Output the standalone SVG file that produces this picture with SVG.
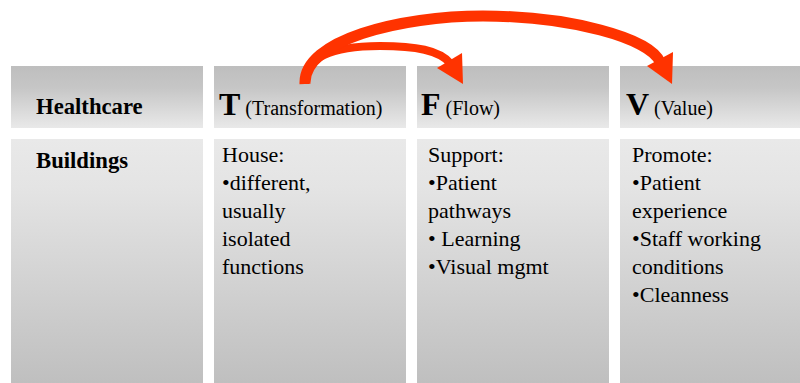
<svg xmlns="http://www.w3.org/2000/svg" width="800" height="383" viewBox="0 0 800 383">
  <defs>
    <linearGradient id="gHead" x1="0" y1="0" x2="0" y2="1">
      <stop offset="0" stop-color="#bebebe"/>
      <stop offset="0.35" stop-color="#c6c6c6"/>
      <stop offset="1" stop-color="#e9e9e9"/>
    </linearGradient>
    <linearGradient id="gBody" x1="0" y1="0" x2="0" y2="1">
      <stop offset="0" stop-color="#e9e9e9"/>
      <stop offset="0.2" stop-color="#e4e4e4"/>
      <stop offset="1" stop-color="#bfbfbf"/>
    </linearGradient>
    <style>
      .hd { fill: url(#gHead); }
      .bd { fill: url(#gBody); }
      text, tspan { font-family: "Times New Roman", "Liberation Serif", Tinos, serif; fill: #000; }
      .lbl { font-size: 22.7px; font-weight: bold; }
      .big { font-size: 32px; font-weight: bold; }
      .sub { font-size: 20px; font-weight: normal; }
      .txt { font-size: 22px; font-weight: normal; }
      .arc { fill: none; stroke: #ff3300; }
      .head { fill: #ff3300; }
    </style>
  </defs>
  <rect width="800" height="383" fill="#ffffff"/>

  <g id="row-label">
    <rect class="hd" x="11" y="66" width="192" height="62"/>
    <text class="lbl" x="36" y="114">Healthcare</text>
    <rect class="bd" x="11" y="139" width="192" height="244"/>
    <text class="lbl" x="36" y="168">Buildings</text>
  </g>

  <g id="col-T">
    <rect class="hd" x="214" y="66" width="192" height="62"/>
    <text x="219" y="115"><tspan class="big">T</tspan><tspan class="sub"> (Transformation)</tspan></text>
    <rect class="bd" x="214" y="139" width="192" height="244"/>
    <text class="txt" x="222" y="162">House:</text>
    <text class="txt" x="222" y="190">•different,</text>
    <text class="txt" x="222" y="218">usually</text>
    <text class="txt" x="222" y="246">isolated</text>
    <text class="txt" x="222" y="274">functions</text>
  </g>

  <g id="col-F">
    <rect class="hd" x="417" y="66" width="192" height="62"/>
    <text x="421" y="115"><tspan class="big">F</tspan><tspan class="sub"> (Flow)</tspan></text>
    <rect class="bd" x="417" y="139" width="192" height="244"/>
    <text class="txt" x="428" y="162">Support:</text>
    <text class="txt" x="428" y="190">•Patient</text>
    <text class="txt" x="428" y="218">pathways</text>
    <text class="txt" x="428" y="246" xml:space="preserve">• Learning</text>
    <text class="txt" x="428" y="274">•Visual mgmt</text>
  </g>

  <g id="col-V">
    <rect class="hd" x="620" y="66" width="180" height="62"/>
    <text x="626" y="115"><tspan class="big">V</tspan><tspan class="sub"> (Value)</tspan></text>
    <rect class="bd" x="620" y="139" width="180" height="244"/>
    <text class="txt" x="632" y="162">Promote:</text>
    <text class="txt" x="632" y="190">•Patient</text>
    <text class="txt" x="632" y="218">experience</text>
    <text class="txt" x="632" y="246">•Staff working</text>
    <text class="txt" x="632" y="274">conditions</text>
    <text class="txt" x="632" y="302">•Cleanness</text>
  </g>

  <g id="connectors">
    <path class="arc" stroke-width="8" d="M305,84 C305,58 330,46 380,46 C415,46 440,50 451,64"/>
    <polygon class="head" points="437,68 462,53 463,84"/>
    <path class="arc" stroke-width="11" d="M305,84 C303,40 400,16 483,16 C570,16 650,38 660,62"/>
    <polygon class="head" points="647,66 673,52 672,84"/>
  </g>
</svg>
